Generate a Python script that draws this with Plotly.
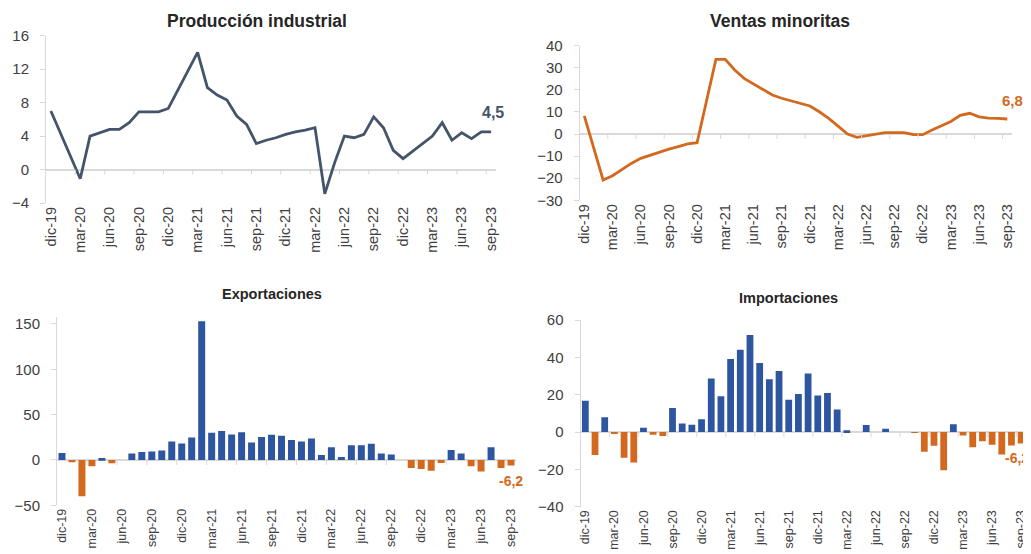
import plotly.graph_objects as go

# Month labels dic-19 .. sep-23
meses = ['ene', 'feb', 'mar', 'abr', 'may', 'jun', 'jul', 'ago', 'sep', 'oct', 'nov', 'dic']
months = ['dic-19'] + [m + '-' + y for y in ['20', '21', '22'] for m in meses] + \
         [m + '-23' for m in meses[:9]]
tick_labels = months[::3]

# Series (% yoy)
produccion = [7.0, None, None, -1.1, 4.0, 4.4, 4.8, 4.8, 5.6, 6.9, 6.9, 6.9,
              7.3, 9.5, 11.8, 14.0, 9.8, 8.9, 8.3, 6.4, 5.4, 3.1, 3.5, 3.8,
              4.2, 4.5, 4.7, 5.0, -2.9, 0.8, 4.0, 3.8, 4.2, 6.3, 5.0, 2.3,
              1.3, 2.2, 3.1, 4.0, 5.6, 3.5, 4.4, 3.7, 4.5, 4.5]
ventas = [8.2, None, -20.8, -18.9, -16.0, -13.3, -11.0, -9.5, -8.0, -6.8, -5.7, -4.5,
          -3.9, None, 33.8, 33.8, 29.0, 25.2, 22.6, 20.2, 17.7, 16.2, 15.0, 13.9,
          12.7, 10.1, 7.1, 3.6, 0.0, -1.5, -0.8, -0.2, 0.6, 0.6, 0.6, -0.2,
          -0.3, 1.8, 3.6, 5.7, 8.5, 9.4, 7.8, 7.2, 7.1, 6.8]
exportaciones = [7.8, -2.6, -40.0, -7.0, 2.2, -3.7, 0.0, 7.0, 8.9, 9.3, 10.4, 20.4,
                 18.1, 24.8, 153.0, 30.0, 31.9, 28.1, 30.7, 19.3, 25.2, 27.8, 26.7, 21.9,
                 20.4, 23.7, 5.6, 14.1, 3.3, 16.3, 16.3, 17.8, 7.0, 5.9, 0.0, -8.9,
                 -10.0, -11.9, -3.3, 11.1, 7.0, -7.0, -12.6, 14.1, -8.9, -6.2]
importaciones = [16.8, -12.3, 7.9, -1.1, -13.8, -16.3, 2.3, -1.4, -2.1, 12.9, 4.6, 3.9,
                 6.8, 28.6, 19.1, 39.1, 44.1, 52.0, 37.0, 28.2, 32.7, 17.3, 20.4, 31.4,
                 19.5, 20.9, 12.0, 0.9, 0.0, 3.8, 0.0, 1.8, 0.0, 0.0, -0.5, -10.6,
                 -7.4, -20.5, 4.2, -1.8, -8.2, -5.0, -6.8, -12.0, -7.2, -6.2]

BLUE = '#2D55A0'
ORANGE = '#D2691E'
SLATE = '#44546A'
GREY = '#d9d9d9'
TXT = '#404040'
FONT = 'Liberation Sans, Arial, sans-serif'

# the page body keeps an 8px margin, so the figure is drawn 8px in
OFF = 8
W, H = 1031 - OFF, 554 - OFF


def dx(a, b):
    return [(a - OFF) / W, (b - OFF) / W]


def dy(top, bottom):
    return [1 - (bottom - OFF) / H, 1 - (top - OFF) / H]


def bar_colors(vals):
    return [BLUE if v >= 0 else ORANGE for v in vals]


fig = go.Figure()
fig.add_trace(go.Scatter(x=months, y=produccion, mode='lines', connectgaps=True,
                         line=dict(color=SLATE, width=2.8), xaxis='x', yaxis='y'))
fig.add_trace(go.Scatter(x=months, y=ventas, mode='lines', connectgaps=True,
                         line=dict(color=ORANGE, width=2.8), xaxis='x2', yaxis='y2'))
fig.add_trace(go.Bar(x=months, y=exportaciones, marker=dict(color=bar_colors(exportaciones)),
                     xaxis='x3', yaxis='y3'))
fig.add_trace(go.Bar(x=months, y=importaciones, marker=dict(color=bar_colors(importaciones)),
                     xaxis='x4', yaxis='y4'))


def xax(domain, anchor, size):
    return dict(domain=domain, anchor=anchor, type='category', range=[-0.5, len(months) - 0.5],
                tickmode='array', tickvals=tick_labels, tickangle=-90,
                tickfont=dict(size=size, color=TXT), showgrid=False, showline=False,
                zeroline=False, ticks='')


def yax(domain, anchor, rng, dtick, size, tickvals=None):
    d = dict(domain=domain, anchor=anchor, range=rng, dtick=dtick, showgrid=False,
             showline=True, linecolor=GREY, linewidth=1, ticks='outside', ticklen=5,
             tickcolor=GREY, zeroline=True, zerolinecolor=GREY, zerolinewidth=1.5,
             tickfont=dict(size=size, color=TXT), ticklabelstandoff=8)
    if tickvals is not None:
        d.update(tickmode='array', tickvals=tickvals)
    return d


fig.update_layout(
    width=W, height=H, margin=dict(l=0, r=0, t=0, b=0),
    paper_bgcolor='white', plot_bgcolor='white', showlegend=False,
    font=dict(family=FONT, color=TXT), bargap=0.3, template='none',
    xaxis=xax(dx(46, 496), 'y', 14.5),
    yaxis=yax(dy(35.7, 203), 'x', [-4, 16], 4, 15),
    xaxis2=xax(dx(579.6, 1012), 'y2', 14.5),
    yaxis2=yax(dy(45.7, 200.3), 'x2', [-30, 40], 10, 15),
    xaxis3=xax(dx(57, 516), 'y3', 12.5),
    yaxis3=yax(dy(316.7, 505.3), 'x3', [-50, 158], 50, 15, [-50, 0, 50, 100, 150]),
    xaxis4=xax(dx(580.5, 1026), 'y4', 12.5),
    yaxis4=yax(dy(320, 506.7), 'x4', [-40, 60], 20, 15),
)

# small tick marks on the zero line, every three months
shapes = []
for ax in ['', '2', '3', '4']:
    for k in range(2, len(months) - 1, 3):
        shapes.append(dict(type='line', xref='x' + ax, yref='y' + ax, x0=k + 0.5, x1=k + 0.5,
                           ysizemode='pixel', yanchor=0, y0=0, y1=-5,
                           line=dict(color=GREY, width=1)))
fig.update_layout(shapes=shapes)

titles = [('Producción industrial', 257, 21, 17.5), ('Ventas minoritas', 780, 21, 17.5),
          ('Exportaciones', 272, 294, 14.5), ('Importaciones', 788, 298, 14.5)]
for text, px, py, size in titles:
    fig.add_annotation(text='<b>' + text + '</b>', x=(px - OFF) / W, y=1 - (py - OFF) / H,
                       xref='paper', yref='paper', xanchor='center', yanchor='middle',
                       showarrow=False, font=dict(size=size, color='#262626'))

last = months[-1]
fig.add_annotation(text='<b>4,5</b>', x=last, y=produccion[-1], xref='x', yref='y',
                   xanchor='center', yanchor='middle', showarrow=False, yshift=19, xshift=2,
                   font=dict(size=16, color=SLATE))
fig.add_annotation(text='<b>6,8</b>', x=last, y=ventas[-1], xref='x2', yref='y2',
                   xanchor='center', yanchor='middle', showarrow=False, yshift=19, xshift=5,
                   font=dict(size=15, color=ORANGE))
fig.add_annotation(text='<b>-6,2</b>', x=last, y=exportaciones[-1], xref='x3', yref='y3',
                   xanchor='center', yanchor='middle', showarrow=False, yshift=-15,
                   font=dict(size=14, color=ORANGE))
fig.add_annotation(text='<b>-6,2</b>', x=last, y=importaciones[-1], xref='x4', yref='y4',
                   xanchor='center', yanchor='middle', showarrow=False, yshift=-14, xshift=-4,
                   font=dict(size=14, color=ORANGE))

fig.write_html('out.html')
